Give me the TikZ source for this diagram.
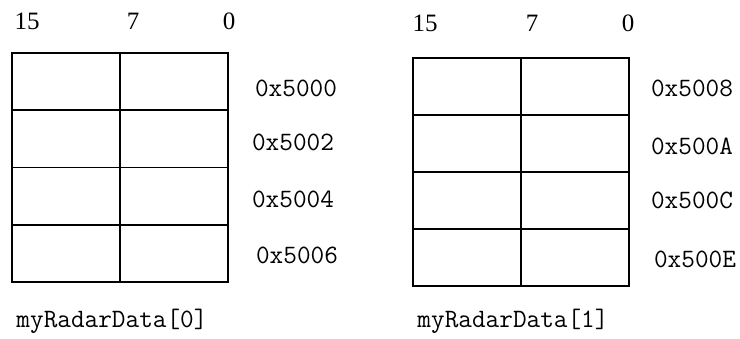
\documentclass[tikz,border=0pt]{standalone}
\usepackage{fontspec}
\usepackage{tikz}
\usetikzlibrary{positioning}
\newfontfamily\bitfont{Liberation Serif}

\begin{document}
\begin{tikzpicture}[x=1pt, y=-1pt,
    cell/.style={draw, line width=1.8pt, minimum width=108.5pt, minimum height=57.25pt, inner sep=0pt, anchor=north west},
    addr/.style={inner sep=0pt, font=\ttfamily\fontsize{26.5}{26.5}\selectfont},
    bit/.style={inner sep=0pt, font=\bitfont\fontsize{25}{25}\selectfont}]
      \useasboundingbox (0,0) rectangle (740,338);

      % left word array
      \foreach \r in {0,...,3} {
        \node[cell] (La\r) at (11,{52+57.25*\r}) {};
        \node[cell] (Lb\r) at (118.5,{52+57.25*\r}) {};
      }
      % right word array
      \foreach \r in {0,...,3} {
        \node[cell, minimum height=57pt] (Ra\r) at (412,{57+57*\r}) {};
        \node[cell, minimum height=57pt] (Rb\r) at (519.5,{57+57*\r}) {};
      }

      \node[bit] at (27,21) (L15) {15};
      \node[bit] at (133,21) (L7) {7};
      \node[bit] at (229,21) (L0) {0};
      \node[bit] at (425,23) (R15) {15};
      \node[bit] at (532,23) (R7) {7};
      \node[bit] at (628,23) (R0) {0};

      \node[addr] at (296,88) (A0) {0x5000};
      \node[addr] at (293,142) (A2) {0x5002};
      \node[addr] at (293,199) (A4) {0x5004};
      \node[addr] at (297,255) (A6) {0x5006};
      \node[addr] at (692,88) (A8) {0x5008};
      \node[addr] at (692,146) (AA) {0x500A};
      \node[addr] at (692,200) (AC) {0x500C};
      \node[addr] at (695,259) (AE) {0x500E};

      \node[addr] at (112,321) (D0) {myRadarData[0]};
      \node[addr] at (513,321) (D1) {myRadarData[1]};
    \end{tikzpicture}
\end{document}
